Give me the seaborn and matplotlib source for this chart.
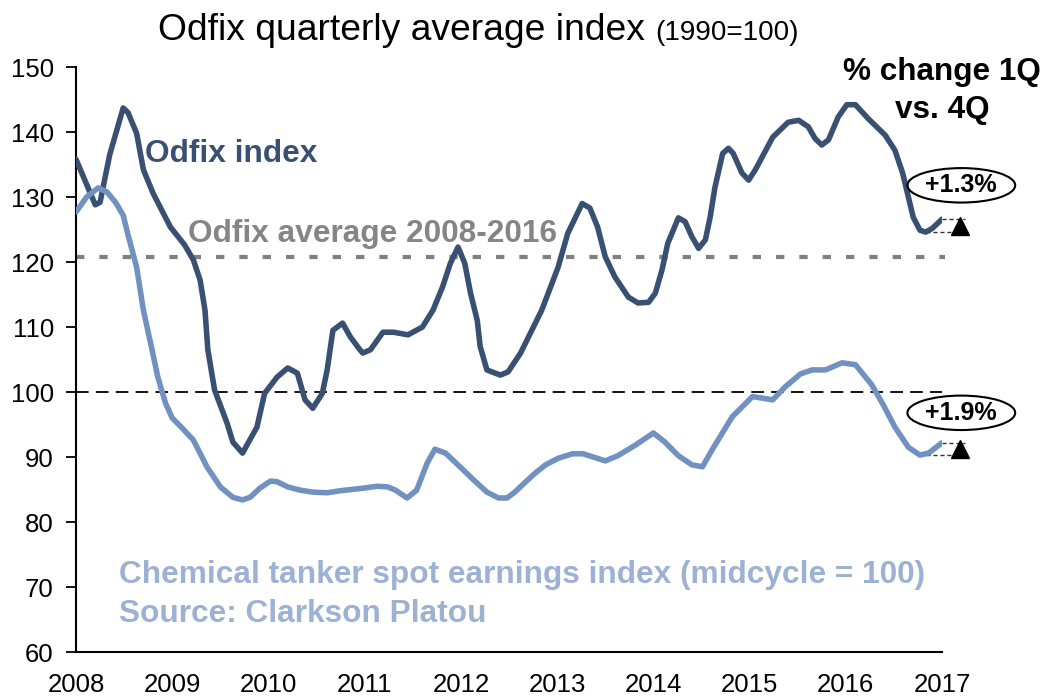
import matplotlib
matplotlib.use("Agg")
import matplotlib.pyplot as plt
from matplotlib.patches import Ellipse
import seaborn as sns
import pandas as pd

# Odfix index (weekly-ish trace)
odfix_t = [2008.00, 2008.20, 2008.25, 2008.35, 2008.49, 2008.54, 2008.63, 2008.70, 2008.80, 2008.98,
           2009.13, 2009.22, 2009.29, 2009.34, 2009.37, 2009.44, 2009.57, 2009.63, 2009.73, 2009.79,
           2009.88, 2009.96, 2010.09, 2010.20, 2010.30, 2010.38, 2010.46, 2010.56, 2010.61, 2010.64,
           2010.67, 2010.77, 2010.85, 2010.95, 2010.98, 2011.06, 2011.19, 2011.30, 2011.45, 2011.60,
           2011.71, 2011.81, 2011.89, 2011.97, 2012.04, 2012.10, 2012.17, 2012.20, 2012.27, 2012.41,
           2012.49, 2012.62, 2012.84, 2013.01, 2013.11, 2013.26, 2013.34, 2013.42, 2013.50, 2013.60,
           2013.74, 2013.84, 2013.95, 2014.02, 2014.09, 2014.15, 2014.26, 2014.33, 2014.40, 2014.47,
           2014.54, 2014.59, 2014.64, 2014.72, 2014.78, 2014.83, 2014.92, 2014.99, 2015.06, 2015.24,
           2015.40, 2015.51, 2015.61, 2015.68, 2015.75, 2015.82, 2015.92, 2016.01, 2016.10, 2016.23,
           2016.41, 2016.51, 2016.59, 2016.65, 2016.70, 2016.77, 2016.83, 2016.90, 2017.00]
odfix_v = [135.8, 128.8, 129.2, 136.5, 143.7, 143.0, 139.8, 134.2, 130.6, 125.4,
           122.6, 120.3, 117.2, 112.6, 106.5, 100.3, 95.2, 92.3, 90.6, 92.2,
           94.6, 99.8, 102.3, 103.7, 102.9, 98.8, 97.5, 99.8, 103.4, 106.5,
           109.5, 110.6, 108.5, 106.5, 106.0, 106.5, 109.2, 109.2, 108.8, 110.0,
           112.6, 116.2, 119.8, 122.3, 119.8, 115.2, 111.0, 107.0, 103.4, 102.6,
           103.1, 106.0, 112.6, 119.2, 124.4, 129.0, 128.3, 125.4, 120.8, 117.7,
           114.6, 113.7, 113.8, 115.2, 118.8, 122.9, 126.8, 126.2, 123.9, 122.1,
           123.4, 126.9, 131.5, 136.7, 137.5, 136.7, 133.7, 132.6, 134.2, 139.2,
           141.5, 141.8, 140.8, 139.0, 138.0, 138.8, 142.3, 144.2, 144.2, 142.1,
           139.5, 137.2, 133.7, 130.0, 126.9, 124.9, 124.6, 125.2, 126.6]

# Chemical tanker spot earnings index
chem_t = [2008.00, 2008.11, 2008.23, 2008.32, 2008.41, 2008.49, 2008.54, 2008.63, 2008.70, 2008.79,
          2008.85, 2008.93, 2009.00, 2009.10, 2009.22, 2009.36, 2009.50, 2009.63, 2009.73, 2009.81,
          2009.91, 2010.02, 2010.09, 2010.20, 2010.33, 2010.46, 2010.61, 2010.74, 2010.98, 2011.13,
          2011.24, 2011.32, 2011.44, 2011.54, 2011.65, 2011.73, 2011.84, 2011.99, 2012.13, 2012.27,
          2012.39, 2012.48, 2012.56, 2012.66, 2012.77, 2012.88, 2013.01, 2013.16, 2013.27, 2013.50,
          2013.63, 2013.81, 2014.00, 2014.12, 2014.26, 2014.40, 2014.51, 2014.61, 2014.82, 2015.03,
          2015.24, 2015.37, 2015.53, 2015.65, 2015.79, 2015.96, 2016.10, 2016.27, 2016.39, 2016.51,
          2016.65, 2016.77, 2016.86, 2017.00]
chem_v = [127.7, 130.0, 131.4, 130.8, 129.2, 127.2, 124.2, 119.2, 112.6, 106.5,
          102.3, 98.3, 96.0, 94.5, 92.6, 88.5, 85.4, 83.8, 83.4, 83.8,
          85.2, 86.3, 86.2, 85.4, 84.9, 84.6, 84.5, 84.8, 85.2, 85.5,
          85.4, 84.9, 83.7, 84.9, 89.1, 91.2, 90.6, 88.5, 86.5, 84.6,
          83.7, 83.7, 84.6, 86.0, 87.5, 88.8, 89.8, 90.5, 90.5, 89.4,
          90.2, 91.8, 93.7, 92.3, 90.2, 88.8, 88.5, 91.1, 96.2, 99.3,
          98.8, 100.8, 102.8, 103.4, 103.4, 104.5, 104.2, 101.1, 98.0, 94.6,
          91.5, 90.3, 90.6, 92.2]

odfix_avg = 120.8
midcycle = 100
changes = ["+1.3%", "+1.9%"]
year_ticks = list(range(2008, 2018))
y_ticks = list(range(60, 151, 10))

dark = "#3a5072"
light = "#7192c0"
light_text = "#9db1d4"

df = pd.concat([
    pd.DataFrame({"t": odfix_t, "v": odfix_v, "series": "Odfix"}),
    pd.DataFrame({"t": chem_t, "v": chem_v, "series": "Chem"}),
])

sns.set_style("white")
plt.rcParams["font.family"] = ["Liberation Sans", "DejaVu Sans"]
plt.rcParams["text.color"] = "black"
plt.rcParams["xtick.color"] = "black"
plt.rcParams["ytick.color"] = "black"

fig = plt.figure(figsize=(10.5, 6.96), dpi=100)
ax = fig.add_axes([0.0724, 0.0632, 0.8248, 0.8405])

ax.axhline(odfix_avg, xmin=0, xmax=1.003, color="#808080", lw=3.0, ls=(0, (2.0, 3.6)), clip_on=False, zorder=1)
ax.axhline(midcycle, color="black", lw=1.3, ls=(0, (7, 4)), zorder=1)

sns.lineplot(data=df, x="t", y="v", hue="series", palette={"Odfix": dark, "Chem": light},
             lw=4.0, legend=False, ax=ax, sort=False, zorder=3)

ax.set_xlim(2008, 2017)
ax.set_ylim(60, 150)
ax.set_xticks(year_ticks)
ax.set_yticks(y_ticks)
ax.tick_params(axis="x", length=0, labelsize=18.5, pad=15, labelcolor="black")
ax.tick_params(axis="y", length=7, width=1.3, labelsize=18.5, direction="out", left=True, pad=9,
               labelcolor="black")
ax.set_xlabel("")
ax.set_ylabel("")
for s in ["top", "right"]:
    ax.spines[s].set_visible(False)
for s in ["left", "bottom"]:
    ax.spines[s].set_color("black")
    ax.spines[s].set_linewidth(1.5)

# change markers at series ends
for t, v, lab, ey in [(odfix_t, odfix_v, changes[0], 131.8), (chem_t, chem_v, changes[1], 96.8)]:
    lo = min(v[-4:])
    hi = v[-1]
    ax.plot([2016.83, 2017.24], [lo, lo], color="#333333", lw=1, ls=(0, (3, 2)), clip_on=False, zorder=2)
    ax.plot([2017.0, 2017.24], [hi, hi], color="#333333", lw=1, ls=(0, (3, 2)), clip_on=False, zorder=2)
    ax.plot([2017.19], [(lo + hi) / 2], marker="^", color="black", ms=13, clip_on=False, zorder=4)
    ax.add_patch(Ellipse((2017.2, ey), 1.12, 5.3, fill=False, ec="black", lw=1.5, clip_on=False, zorder=4))
    ax.text(2017.2, ey, lab, ha="center", va="center", fontsize=18, fontweight="bold", color="black",
            zorder=5)

ax.text(2008.717, 135.4, "Odfix index", color=dark, fontsize=22.8, fontweight="bold", va="baseline")
ax.text(2009.164, 123.1, "Odfix average 2008-2016", color="#858585", fontsize=22.8, fontweight="bold",
        va="baseline")
ax.text(2008.447, 70.6, "Chemical tanker spot earnings index (midcycle = 100)", color=light_text,
        fontsize=22.8, fontweight="bold", va="baseline")
ax.text(2008.447, 64.6, "Source: Clarkson Platou", color=light_text, fontsize=22.8, fontweight="bold",
        va="baseline")
ax.text(2017.0, 148.0, "% change 1Q", ha="center", va="baseline", fontsize=22.7, fontweight="bold",
        color="black")
ax.text(2017.0, 142.2, "vs. 4Q", ha="center", va="baseline", fontsize=22.7, fontweight="bold",
        color="black")

fig.text(0.1505, 0.943, "Odfix quarterly average index", fontsize=26.8, va="baseline", ha="left",
         color="black")
fig.text(0.624, 0.943, "(1990=100)", fontsize=20, va="baseline", ha="left", color="black")

fig.savefig("out.png", dpi=100)
